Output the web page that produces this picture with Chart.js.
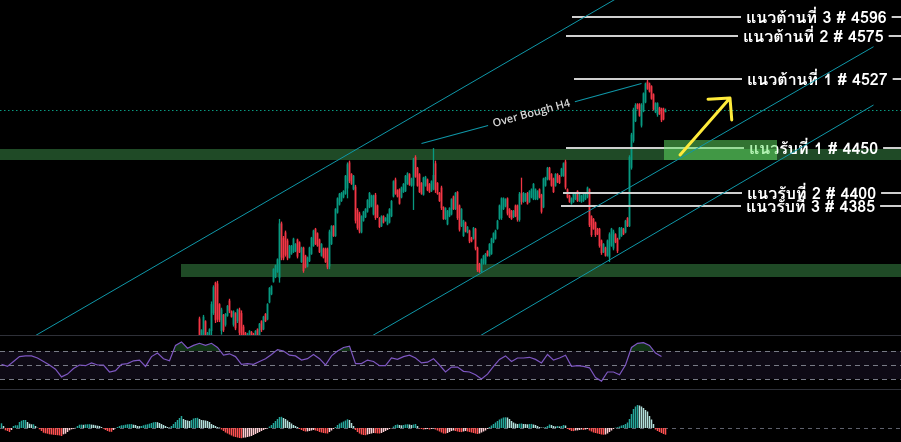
<!DOCTYPE html>
<html>
<head>
<meta charset="utf-8">
<script src="https://cdn.jsdelivr.net/npm/chart.js@4.4.1/dist/chart.umd.min.js"></script>
<style>
  html, body { margin: 0; padding: 0; background: #000; }
  #wrap { position: relative; width: 901px; height: 442px; background: #000; overflow: hidden; }
  .pane { position: absolute; left: 0; width: 901px; }
  .sep { position: absolute; left: 0; width: 901px; height: 1px; background: #2e3038; }
</style>
</head>
<body>
<div id="wrap">
  <div class="pane" style="top:0;height:335px"><canvas id="priceChart"></canvas></div>
  <div class="sep" style="top:335px"></div>
  <div class="pane" style="top:336px;height:53px"><canvas id="rsiChart"></canvas></div>
  <div class="sep" style="top:389px"></div>
  <div class="pane" style="top:390px;height:52px"><canvas id="macdChart"></canvas></div>
</div>
<script>
// ---------------------------------------------//
// Candles (H1). Bars before firstBar sit below //
// the visible price range, so they start here  //
// ---------------------------------------------//
const firstBar = 99;

const opens = [
  4260,4238,4240,4257,4239,4240,4246,4266,4300,4299,
  4276,4246,4264,4253,4263,4280,4268,4253,4266,4257,
  4270,4266,4251,4244,4236,4237,4245,4243,4237,4248,
  4240,4257,4248,4265,4259,4278,4287,4301,4306,4312,
  4305,4366,4350,4356,4347,4328,4332,4334,4335,4348,
  4345,4323,4339,4330,4318,4324,4332,4341,4360,4355,
  4348,4330,4338,4338,4338,4318,4343,4363,4352,4378,
  4387,4391,4395,4399,4405,4434,4421,4404,4407,4381,
  4377,4356,4369,4373,4379,4384,4385,4376,4398,4386,
  4372,4363,4374,4369,4365,4367,4374,4396,4415,4403,
  4404,4395,4401,4402,4410,4421,4408,4408,4440,4428,
  4421,4411,4398,4408,4415,4410,4402,4404,4433,4411,
  4400,4406,4384,4371,4365,4374,4376,4396,4382,4401,
  4386,4363,4352,4367,4356,4358,4350,4349,4360,4339,
  4321,4312,4321,4321,4335,4330,4332,4345,4349,4360,
  4371,4372,4382,4385,4394,4382,4380,4373,4386,4386,
  4370,4400,4390,4391,4400,4390,4395,4393,4393,4393,
  4404,4398,4384,4408,4415,4428,4421,4416,4408,4421,
  4419,4419,4419,4435,4404,4397,4388,4390,4393,4402,
  4391,4390,4391,4393,4395,4404,4374,4371,4367,4360,
  4360,4347,4334,4339,4330,4328,4341,4338,4354,4349,
  4349,4352,4360,4356,4372,4363,4428,4458,4480,4499,
  4499,4475,4491,4501,4524,4522,4519,4510,4490,4487,
  4495,4494,4494,4490
];

const highs = [
  4262,4248,4264,4258,4245,4249,4279,4297,4301,4302,
  4277,4272,4265,4266,4275,4282,4269,4269,4267,4271,
  4272,4269,4253,4245,4244,4247,4246,4244,4247,4249,
  4255,4258,4263,4266,4277,4295,4297,4316,4320,4327,
  4371,4368,4352,4358,4349,4342,4342,4350,4344,4349,
  4346,4340,4340,4331,4329,4340,4351,4359,4361,4356,
  4349,4344,4339,4339,4339,4359,4364,4364,4383,4395,
  4400,4401,4403,4420,4434,4436,4422,4420,4409,4383,
  4379,4375,4380,4383,4393,4401,4398,4398,4400,4387,
  4373,4375,4375,4373,4377,4383,4392,4414,4417,4404,
  4405,4407,4411,4420,4423,4422,4417,4439,4442,4429,
  4422,4412,4418,4419,4416,4411,4414,4450,4436,4412,
  4401,4408,4385,4384,4381,4384,4394,4397,4401,4402,
  4387,4383,4370,4368,4363,4359,4351,4362,4361,4340,
  4322,4327,4331,4333,4336,4344,4350,4356,4359,4370,
  4387,4395,4395,4394,4395,4383,4381,4381,4387,4387,
  4401,4417,4401,4400,4401,4403,4405,4411,4405,4403,
  4405,4399,4417,4418,4429,4429,4422,4417,4422,4422,
  4420,4428,4434,4437,4405,4398,4395,4400,4400,4403,
  4400,4398,4401,4401,4407,4405,4375,4372,4368,4361,
  4361,4348,4344,4340,4348,4356,4361,4359,4355,4350,
  4362,4362,4361,4370,4373,4442,4467,4495,4500,4500,
  4500,4500,4512,4523,4527,4523,4520,4511,4501,4501,
  4496,4495,4495,4494
];

const lows = [
  4236,4236,4238,4238,4237,4238,4240,4264,4255,4256,
  4256,4242,4245,4251,4262,4266,4261,4251,4247,4255,
  4240,4236,4235,4234,4234,4235,4235,4234,4235,4236,
  4238,4245,4247,4256,4258,4277,4286,4300,4305,4311,
  4300,4325,4325,4329,4325,4327,4331,4333,4334,4327,
  4333,4322,4311,4316,4317,4323,4331,4340,4342,4340,
  4333,4329,4327,4322,4315,4315,4342,4351,4351,4377,
  4386,4390,4394,4398,4394,4411,4409,4403,4366,4359,
  4355,4355,4368,4372,4378,4383,4384,4375,4370,4372,
  4361,4362,4366,4368,4364,4366,4373,4395,4398,4395,
  4387,4394,4400,4401,4409,4408,4407,4381,4417,4407,
  4400,4398,4397,4407,4402,4400,4401,4403,4400,4398,
  4390,4381,4370,4370,4364,4373,4375,4381,4381,4370,
  4357,4362,4351,4356,4355,4344,4345,4348,4336,4312,
  4311,4311,4320,4320,4329,4329,4331,4344,4348,4359,
  4370,4370,4381,4384,4375,4372,4370,4372,4373,4368,
  4368,4387,4389,4390,4387,4389,4394,4392,4392,4392,
  4394,4377,4383,4407,4414,4414,4407,4400,4407,4411,
  4410,4418,4418,4404,4394,4389,4387,4389,4392,4390,
  4390,4389,4390,4392,4394,4362,4351,4359,4351,4353,
  4339,4331,4333,4329,4329,4323,4340,4336,4344,4333,
  4348,4351,4353,4355,4362,4362,4426,4456,4479,4493,
  4485,4473,4490,4500,4515,4512,4504,4492,4489,4485,
  4487,4479,4481,4490
];

const closes = [
  4240,4247,4262,4240,4244,4248,4276,4295,4258,4259,
  4258,4270,4247,4265,4274,4268,4262,4268,4249,4270,
  4244,4240,4238,4236,4243,4246,4237,4236,4246,4238,
  4254,4247,4262,4257,4276,4294,4296,4315,4319,4326,
  4366,4328,4327,4331,4327,4341,4341,4349,4343,4329,
  4334,4339,4313,4317,4328,4339,4350,4358,4343,4341,
  4334,4343,4328,4323,4317,4357,4363,4352,4382,4394,
  4399,4400,4402,4419,4432,4413,4410,4419,4369,4361,
  4357,4374,4379,4382,4392,4400,4397,4397,4372,4373,
  4362,4374,4367,4372,4376,4382,4391,4413,4399,4396,
  4388,4406,4410,4419,4422,4409,4416,4437,4418,4408,
  4401,4399,4417,4418,4403,4401,4413,4420,4403,4399,
  4391,4383,4371,4383,4380,4383,4393,4382,4400,4372,
  4359,4382,4369,4357,4362,4346,4346,4361,4338,4314,
  4312,4326,4330,4332,4330,4343,4349,4355,4358,4369,
  4386,4394,4394,4393,4377,4373,4371,4380,4374,4370,
  4399,4390,4400,4399,4388,4402,4404,4410,4404,4402,
  4395,4379,4416,4417,4428,4415,4408,4401,4421,4412,
  4411,4427,4433,4406,4395,4390,4394,4399,4399,4391,
  4399,4397,4400,4400,4406,4364,4353,4360,4353,4354,
  4341,4333,4343,4330,4347,4354,4360,4357,4345,4335,
  4361,4361,4354,4369,4363,4440,4465,4493,4498,4494,
  4486,4498,4511,4522,4516,4513,4505,4493,4500,4500,
  4488,4481,4482,4492
];

// RSI(14) read every 3 bars from bar 0
const rsiStep = 3;
const rsiValues = [
  51,48,55,62,63,63,60,55,50,44,
  33,37,45,50,49,53,50,50,40,42,
  51,52,56,57,48,62,67,59,56,78,
  83,74,78,81,78,81,75,64,66,62,
  51,52,51,55,59,65,72,70,64,63,
  57,59,65,59,50,63,70,75,77,52,
  52,57,55,49,49,60,58,62,64,60,
  53,54,59,50,40,47,47,41,40,36,
  30,37,48,58,63,55,60,60,61,58,
  53,65,57,60,64,48,49,48,46,32,
  27,40,40,36,50,75,81,82,78,67,62
];
const rsiLevels = [70, 50, 30];

// MACD histogram, one value per bar from bar 0
const macdHist = [
  4.7,2,-2.3,-3,-4,-2,2,2.7,2.7,6,
  7.3,8,8,6,4.3,3.7,3.7,2,0.3,-1.3,
  -3,-4.7,-5.3,-5.7,-6.3,-6.5,-6.8,-7,-7.2,-7.4,
  -8,-6.3,-5.7,-4,-2.3,-1.3,-0.7,0.3,2,3.3,
  3.4,3.2,3.6,3.7,3.8,3.4,3.2,2.7,2.3,2,
  1,-0.7,-2,-3,-3.7,-3.8,-2,0,1,2,
  2.7,2.8,3.3,3.7,3.8,3.9,3.3,3,2,1.9,
  2,2.7,3.3,3.7,4.3,5,5.7,6,5.8,5,
  4,3,2,1,0.5,2,4,6,8,10,
  12,9,8,7.5,7,8,9.5,10,10.2,9,
  8,7.8,7.5,7,6,4,3,2,1,0.5,
  -1.5,-3,-4.5,-5.5,-6.5,-7.5,-8.5,-9,-9.5,-10,
  -10.2,-9.7,-9.5,-9,-8.5,-8,-7,-6,-5,-4,
  -3,-2,-1,-0.3,1.5,3,5,7,9,11,
  11.2,10,9,7.5,6,4.5,3,2,1,-1,
  -2,-3,-3.5,-3.4,-3,-2.5,-2,-2.5,-3,-4,
  -4.5,-5,-5.3,-5.5,-4,-2.5,-1,1,3,4.5,
  5.5,6.5,7.5,8.7,8,5,2,-2,-4,-5.5,
  -6.5,-7,-7.2,-6.5,-6,-5.5,-5,-5.2,-5.4,-5.5,
  -5,-4,-3,-2,-1,-0.3,1.5,3,3.5,3,
  2.7,3,3.5,3.7,3.5,3,3.5,4,2,-0.5,
  -1,-1.5,-1.2,-1,-1.5,-1,-0.5,-1.5,-2.5,-3.5,
  -4.5,-5.5,-5.6,-5,-4,-3,-2.5,-3,-3.5,-4,
  -4.1,-3.5,-3,-3.5,-4,-4.5,-5,-5.5,-6,-5.5,
  -4.5,-3.5,-2.5,-1,1,2.5,4,5.5,7,8.5,
  9.5,10.5,10.7,10.5,9,7,5.5,4.5,4,4.3,
  4.5,4,3.9,3.7,4,4.1,3.5,3,2,1,
  0.5,0.4,1,2,3.5,3,2,1.5,2,1.5,
  2,3,2.5,-1,-2,-3,-3.1,-2.5,-2.4,-2,
  -1.5,-2,-1.5,-1,-2.5,-3.5,-4.5,-5,-5.5,-6,
  -6.5,-6.7,-6.5,-5.5,-4,-2.5,-1,0.3,0.8,1.5,
  2.5,3,4,5.5,9,14,19,21.5,23,22.5,
  21.5,20,18,16.5,12,8.5,4,-1.5,-3,-4,
  -5,-6,-6.7
];

// Support / resistance levels and zones
const levelNames = ['แนวต้านที่ 3', 'แนวต้านที่ 2', 'แนวต้านที่ 1', 'แนวรับที่ 1', 'แนวรับที่ 2', 'แนวรับที่ 3'];
const levelPrices = [4596, 4575, 4527, 4450, 4400, 4385];
const zoneTops = [4449, 4321];
const zoneBottoms = [4437, 4306];

// Colours
const upColor = '#089981';
const downColor = '#f23645';
const channelColor = '#0f97a8';

// Where the hand-drawn objects sit, in bar index / price
const drawings = {
    zoneStart: [-0.75, 89.75],
    levelStart: [285.25, 282.25, 286.25, 282.25, 280.75, 279.75],
    labelAt: [372.25, 370.75, 372.75, 373.75, 372.75, 372.25],
    channels: [
        [[0, 4219], [436, 4783]],
        [[170, 4221], [436, 4563]],
        [[225, 4222], [436, 4498]]
    ],
    overBought: [[210, 4455], [320, 4522]],
    highlight: { from: 331.25, to: 387.75, top: 4459, bottom: 4436.7 },
    arrow: [[339.25, 4442.3], [364.25, 4505.8]]
};

const candleBars = closes.map((_, j) => firstBar + j);
const candleColors = closes.map((c, j) => c >= opens[j] ? upColor : downColor);

const macdColors = macdHist.map((v, i) => {
    const prev = i > 0 ? macdHist[i - 1] : v;
    if (v >= 0) return v >= prev ? '#26a69a' : '#b2dfdb';
    return v < prev ? '#ff5252' : '#ffcdd2';
});

// Same bar grid on all three panes
function xAxis() {
    return { type: 'linear', display: false, min: -0.75, max: 449.75, offset: false };
}

function baseOptions(yScale) {
    return {
        responsive: true,
        maintainAspectRatio: false,
        animation: false,
        events: [],
        layout: { padding: 0 },
        plugins: { legend: { display: false }, tooltip: { enabled: false }, colors: { enabled: false } },
        scales: { x: xAxis(), y: yScale }
    };
}

//-------------------------------//
// Drawings on the price pane    //
//-------------------------------//
const priceDrawings = {
    id: 'priceDrawings',
    beforeDatasetsDraw(chart) {
        const { ctx, chartArea: a, scales: { x, y } } = chart;
        ctx.save();

        // green zones
        ctx.fillStyle = '#1f4a26';
        zoneTops.forEach((top, k) => {
            const left = Math.max(a.left, x.getPixelForValue(drawings.zoneStart[k]));
            const y1 = Math.round(y.getPixelForValue(top));
            const y2 = Math.round(y.getPixelForValue(zoneBottoms[k]));
            ctx.fillRect(left, y1, a.right - left, y2 - y1);
        });

        // last price line
        const py = Math.round(y.getPixelForValue(closes[closes.length - 1])) + 0.5;
        ctx.strokeStyle = upColor;
        ctx.lineWidth = 1;
        ctx.setLineDash([1.5, 2.5]);
        ctx.beginPath();
        ctx.moveTo(a.left, py);
        ctx.lineTo(a.right, py);
        ctx.stroke();
        ctx.restore();
    },
    afterDatasetsDraw(chart) {
        const { ctx, chartArea: a, scales: { x, y } } = chart;
        ctx.save();
        ctx.beginPath();
        ctx.rect(a.left, a.top, a.right - a.left, a.bottom - a.top);
        ctx.clip();

        // fit the label font to the picture
        const fontStack = 'Tahoma, Loma, Garuda, "Noto Sans Thai", "Noto Sans", "DejaVu Sans", sans-serif';
        ctx.font = 'bold 16px ' + fontStack;
        const w0 = ctx.measureText(levelNames[0] + ' # ' + levelPrices[0]).width;
        const size = Math.max(12, Math.min(19, 16 * 141 / w0));
        ctx.font = 'bold ' + size.toFixed(1) + 'px ' + fontStack;

        // level lines with their labels
        levelPrices.forEach((price, k) => {
            const label = levelNames[k] + ' # ' + price;
            const ly = Math.round(y.getPixelForValue(price));
            const lx = x.getPixelForValue(drawings.labelAt[k]);
            const w = ctx.measureText(label).width;
            ctx.strokeStyle = '#cfcfcf';
            ctx.lineWidth = 2;
            ctx.beginPath();
            ctx.moveTo(x.getPixelForValue(drawings.levelStart[k]), ly);
            ctx.lineTo(lx - 5, ly);
            ctx.moveTo(lx + w + 5, ly);
            ctx.lineTo(a.right, ly);
            ctx.stroke();
            ctx.fillStyle = '#ffffff';
            ctx.textBaseline = 'alphabetic';
            ctx.fillText(label, lx, ly + 6);
        });

        // light box at support 1
        const h = drawings.highlight;
        const hx1 = x.getPixelForValue(h.from), hx2 = x.getPixelForValue(h.to);
        const hy1 = y.getPixelForValue(h.top), hy2 = y.getPixelForValue(h.bottom);
        ctx.fillStyle = 'rgba(100,230,100,0.5)';
        ctx.fillRect(hx1, hy1, hx2 - hx1, hy2 - hy1);

        // channel lines
        ctx.strokeStyle = channelColor;
        ctx.lineWidth = 1;
        drawings.channels.forEach(([p1, p2]) => {
            ctx.beginPath();
            ctx.moveTo(x.getPixelForValue(p1[0]), y.getPixelForValue(p1[1]));
            ctx.lineTo(x.getPixelForValue(p2[0]), y.getPixelForValue(p2[1]));
            ctx.stroke();
        });

        // over bought trend line with its text on it
        const [o1, o2] = drawings.overBought;
        const ax = x.getPixelForValue(o1[0]), ay = y.getPixelForValue(o1[1]);
        const bx = x.getPixelForValue(o2[0]), by = y.getPixelForValue(o2[1]);
        const ang = Math.atan2(by - ay, bx - ax);
        const len = Math.hypot(bx - ax, by - ay);
        ctx.font = '600 11px "Open Sans", "Noto Sans", sans-serif';
        const text = 'Over Bough H4';
        const tw = ctx.measureText(text).width;
        const gap = tw / 2 + 5;
        const mid = len / 2;
        ctx.save();
        ctx.translate(ax, ay);
        ctx.rotate(ang);
        ctx.beginPath();
        ctx.moveTo(0, 0);
        ctx.lineTo(mid - gap, 0);
        ctx.moveTo(mid + gap, 0);
        ctx.lineTo(len, 0);
        ctx.stroke();
        ctx.fillStyle = '#d6d6d6';
        ctx.textAlign = 'center';
        ctx.textBaseline = 'middle';
        ctx.fillText(text, mid, 0);
        ctx.restore();

        // yellow arrow
        const [r1, r2] = drawings.arrow;
        const sx = x.getPixelForValue(r1[0]), sy = y.getPixelForValue(r1[1]);
        const ex = x.getPixelForValue(r2[0]), ey = y.getPixelForValue(r2[1]);
        const back = Math.atan2(sy - ey, sx - ex);
        ctx.strokeStyle = '#ffeb3b';
        ctx.lineWidth = 3;
        ctx.lineCap = 'round';
        ctx.lineJoin = 'round';
        ctx.beginPath();
        ctx.moveTo(sx, sy);
        ctx.lineTo(ex, ey);
        ctx.moveTo(ex + 22 * Math.cos(back + 0.8), ey + 22 * Math.sin(back + 0.8));
        ctx.lineTo(ex, ey);
        ctx.lineTo(ex + 22 * Math.cos(back - 0.8), ey + 22 * Math.sin(back - 0.8));
        ctx.stroke();

        ctx.restore();
    }
};

// colour for each candle, looked up by its index
const candleFill = c => candleColors[c.dataIndex];

new Chart(document.getElementById('priceChart'), {
    type: 'bar',
    data: {
        datasets: [
            {
                label: 'Wick',
                data: candleBars.map((b, j) => ({ x: b, y: [lows[j], highs[j]] })),
                backgroundColor: candleFill,
                borderWidth: 0,
                barThickness: 1.3,
                grouped: false,
                inflateAmount: 0
            },
            {
                label: 'Body',
                data: candleBars.map((b, j) => ({ x: b, y: [opens[j], closes[j]] })),
                backgroundColor: candleFill,
                borderWidth: 0,
                barThickness: 1.7,
                grouped: false,
                inflateAmount: 0
            }
        ]
    },
    options: baseOptions({ display: false, min: 4241.6, max: 4615.1 }),
    plugins: [priceDrawings]
});

//-------------------------------//
// RSI pane                      //
//-------------------------------//
const rsiBands = {
    id: 'rsiBands',
    beforeDatasetsDraw(chart) {
        const { ctx, chartArea: a, scales: { y } } = chart;
        const yTop = y.getPixelForValue(rsiLevels[0]);
        const yBot = y.getPixelForValue(rsiLevels[2]);
        ctx.save();
        ctx.fillStyle = 'rgba(126,87,194,0.11)';
        ctx.fillRect(a.left, yTop, a.right - a.left, yBot - yTop);
        ctx.strokeStyle = '#787b86';
        ctx.lineWidth = 1;
        ctx.setLineDash([5, 4]);
        rsiLevels.forEach(v => {
            const ly = Math.round(y.getPixelForValue(v)) + 0.5;
            ctx.beginPath();
            ctx.moveTo(a.left, ly);
            ctx.lineTo(a.right, ly);
            ctx.stroke();
        });
        ctx.restore();
    }
};

new Chart(document.getElementById('rsiChart'), {
    type: 'line',
    data: {
        datasets: [{
            label: 'RSI',
            data: rsiValues.map((v, k) => ({ x: k * rsiStep, y: v })),
            borderColor: '#7e57c2',
            borderWidth: 1.2,
            pointRadius: 0,
            tension: 0,
            fill: { target: { value: 70 }, above: 'rgba(46,140,60,0.35)', below: 'rgba(0,0,0,0)' }
        }]
    },
    options: baseOptions({ display: false, min: 15.71, max: 91.43 }),
    plugins: [rsiBands]
});

//-------------------------------//
// MACD histogram pane           //
//-------------------------------//
const macdZero = {
    id: 'macdZero',
    beforeDatasetsDraw(chart) {
        const { ctx, chartArea: a, scales: { y } } = chart;
        const ly = Math.round(y.getPixelForValue(0)) + 0.5;
        ctx.save();
        ctx.strokeStyle = '#5d606b';
        ctx.lineWidth = 1;
        ctx.setLineDash([4, 4]);
        ctx.beginPath();
        ctx.moveTo(a.left, ly);
        ctx.lineTo(a.right, ly);
        ctx.stroke();
        ctx.restore();
    }
};

new Chart(document.getElementById('macdChart'), {
    type: 'bar',
    data: {
        datasets: [{
            label: 'Histogram',
            data: macdHist.map((v, i) => ({ x: i, y: v })),
            backgroundColor: c => macdColors[c.dataIndex],
            borderWidth: 0,
            barThickness: 1.5,
            inflateAmount: 0
        }]
    },
    options: baseOptions({ display: false, min: -14, max: 38 }),
    plugins: [macdZero]
});
</script>
</body>
</html>
